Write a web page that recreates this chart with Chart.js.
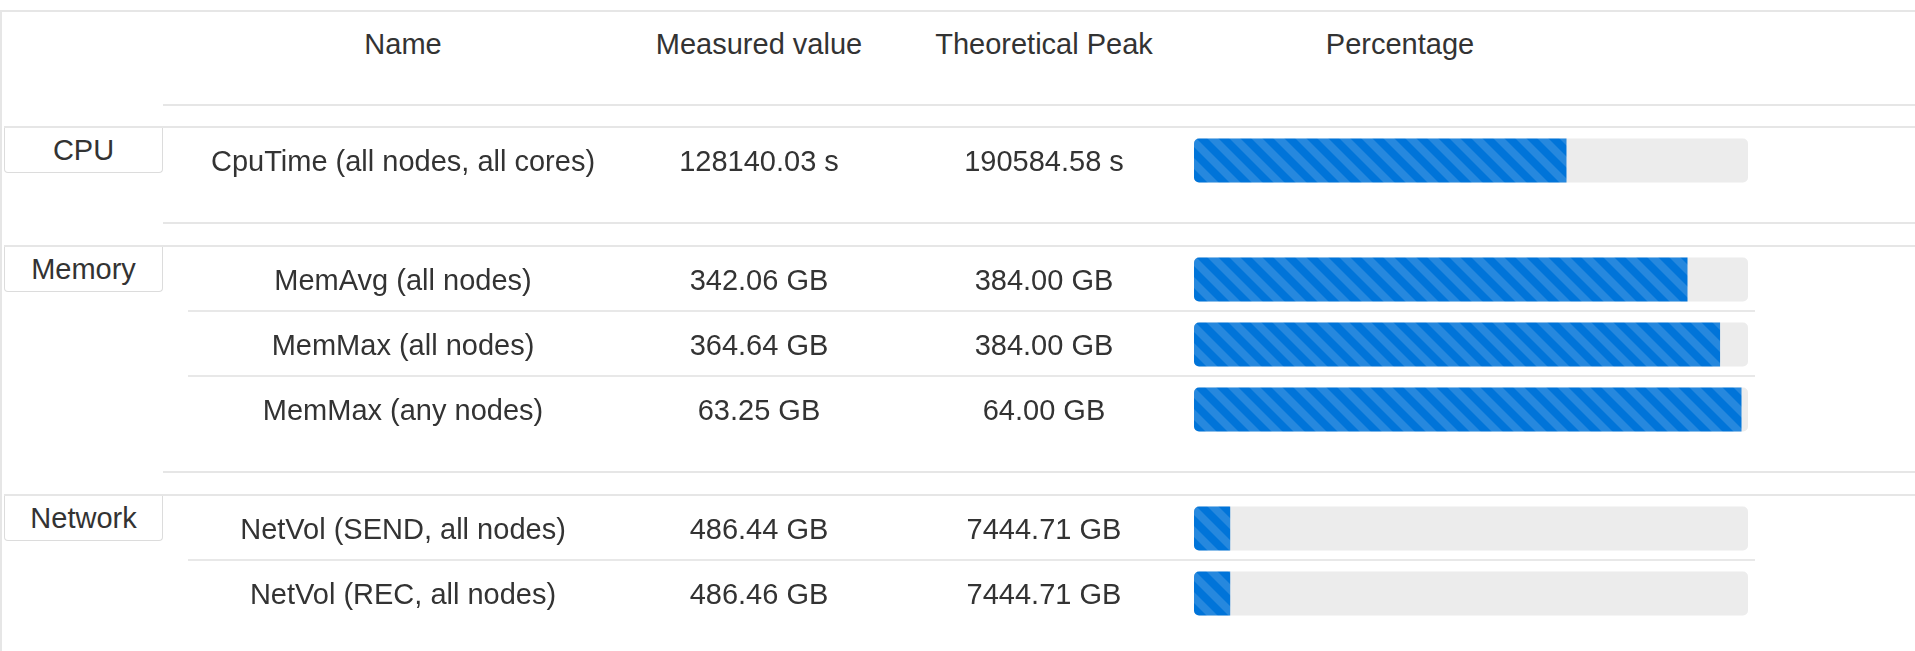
<!DOCTYPE html>
<html>
<head>
<meta charset="utf-8">
<title>Job metrics</title>
<script src="https://cdn.jsdelivr.net/npm/chart.js@4.4.1/dist/chart.umd.min.js"></script>
<style>
  html, body { margin: 0; padding: 0; background: #fff; }
  body { width: 1915px; height: 651px; overflow: hidden; font-family: "Liberation Sans", Arial, sans-serif; color: #333; }
  #page { position: relative; width: 1915px; height: 651px; }
  .line { position: absolute; height: 2px; background: #e6e6e6; }
  .vline { position: absolute; left: 0; top: 10px; bottom: 0; width: 2px; background: #e6e6e6; }
  .head { position: absolute; top: 28px; line-height: 32px; font-size: 29px; white-space: nowrap; transform: translateX(-50%); }
  .box { position: absolute; left: 4px; width: 157px; height: 44px; border: 1px solid #dcdcdc; border-top: none;
         border-radius: 0 0 4px 4px; text-align: center; font-size: 29px; line-height: 44px; background: #fff; }
  canvas { position: absolute; }
</style>
</head>
<body>
<div id="page"></div>
<script>
  // Table data
  let groupNames = ['CPU', 'Memory', 'Network'];
  let headers = ['Name', 'Measured value', 'Theoretical Peak', 'Percentage'];
  let metricNames = [
    'CpuTime (all nodes, all cores)',
    'MemAvg (all nodes)',
    'MemMax (all nodes)',
    'MemMax (any nodes)',
    'NetVol (SEND, all nodes)',
    'NetVol (REC, all nodes)'
  ];
  let metricGroups = ['CPU', 'Memory', 'Memory', 'Memory', 'Network', 'Network'];
  let measuredValues = [128140.03, 342.06, 364.64, 63.25, 486.44, 486.46];
  let peakValues = [190584.58, 384.00, 384.00, 64.00, 7444.71, 7444.71];
  let units = ['s', 'GB', 'GB', 'GB', 'GB', 'GB'];

  // Layout (page pixels)
  const CHART_LEFT = 163;
  const COL_NAME = 403, COL_MEASURED = 759, COL_PEAK = 1044, COL_PCT = 1400;
  const BAR_LEFT = 1194, BAR_RIGHT = 1748;
  const ROW_H = 65;
  const page = document.getElementById('page');

  function addLine(left, y, width) {
    const d = document.createElement('div');
    d.className = 'line';
    d.style.left = left + 'px';
    d.style.top = y + 'px';
    d.style.width = width + 'px';
    page.appendChild(d);
  }

  const v = document.createElement('div');
  v.className = 'vline';
  page.appendChild(v);
  addLine(0, 10, 1915);
  addLine(CHART_LEFT, 104, 1915 - CHART_LEFT);

  // Column headers
  [COL_NAME, COL_MEASURED, COL_PEAK, COL_PCT].forEach((x, i) => {
    const h = document.createElement('div');
    h.className = 'head';
    h.style.left = x + 'px';
    h.textContent = headers[i];
    page.appendChild(h);
  });

  // Striped fill like a progress bar
  function stripes() {
    const c = document.createElement('canvas');
    c.width = 44; c.height = 44;
    const g = c.getContext('2d');
    g.fillStyle = '#0074d9';
    g.fillRect(0, 0, 44, 44);
    g.fillStyle = 'rgba(255,255,255,0.15)';
    for (let s = -88; s <= 44; s += 22) {
      g.beginPath();
      g.moveTo(s, 0);
      g.lineTo(s + 11, 0);
      g.lineTo(s + 55, 44);
      g.lineTo(s + 44, 44);
      g.closePath();
      g.fill();
    }
    return g.createPattern(c, 'repeat');
  }
  const stripePattern = stripes();

  // Text columns and row separators drawn at the category positions
  const cellPlugin = {
    id: 'cells',
    afterDraw(chart) {
      const ctx = chart.ctx;
      const y = chart.scales.y;
      const rows = chart.data.rows;
      ctx.save();
      ctx.strokeStyle = '#e8e8e8';
      ctx.lineWidth = 2;
      for (let i = 0; i < rows.length - 1; i++) {
        const sy = Math.round((y.getPixelForValue(i) + y.getPixelForValue(i + 1)) / 2) - 1;
        ctx.beginPath();
        ctx.moveTo(188 - CHART_LEFT, sy);
        ctx.lineTo(1755 - CHART_LEFT, sy);
        ctx.stroke();
      }
      ctx.fillStyle = '#333';
      ctx.font = '29px "Liberation Sans", Arial, sans-serif';
      ctx.textAlign = 'center';
      ctx.textBaseline = 'middle';
      rows.forEach((r, i) => {
        const py = y.getPixelForValue(i) + 2;
        ctx.fillText(metricNames[r], COL_NAME - CHART_LEFT, py);
        ctx.fillText(measuredValues[r].toFixed(2) + ' ' + units[r], COL_MEASURED - CHART_LEFT, py);
        ctx.fillText(peakValues[r].toFixed(2) + ' ' + units[r], COL_PEAK - CHART_LEFT, py);
      });
      ctx.restore();
    }
  };

  let groupTop = 126;
  groupNames.forEach(group => {
    const rows = [];
    metricGroups.forEach((g, i) => { if (g === group) rows.push(i); });

    addLine(4, groupTop, 1915 - 4);
    const box = document.createElement('div');
    box.className = 'box';
    box.style.top = (groupTop + 2) + 'px';
    box.textContent = group;
    page.appendChild(box);

    const canvas = document.createElement('canvas');
    canvas.width = 1915 - CHART_LEFT;
    canvas.height = rows.length * ROW_H;
    canvas.style.left = CHART_LEFT + 'px';
    canvas.style.top = (groupTop + 2) + 'px';
    page.appendChild(canvas);

    const data = {
      labels: rows.map(r => metricNames[r]),
      rows: rows,
      datasets: [{
        label: 'Percentage',
        data: rows.map(r => measuredValues[r] / peakValues[r] * 100),
        backgroundColor: stripePattern,
        barThickness: 44,
        grouped: false,
        order: 0,
        inflateAmount: 0,
        borderSkipped: false,
        borderRadius: { topLeft: 5, bottomLeft: 5, topRight: 0, bottomRight: 0 }
      }, {
        label: 'Track',
        data: rows.map(() => 100),
        backgroundColor: '#ececec',
        barThickness: 44,
        grouped: false,
        order: 1,
        inflateAmount: 0,
        borderSkipped: false,
        borderRadius: 5
      }]
    };

    new Chart(canvas.getContext('2d'), {
      type: 'bar',
      data: data,
      options: {
        indexAxis: 'y',
        responsive: false,
        animation: false,
        layout: { padding: { left: BAR_LEFT - CHART_LEFT, right: 1915 - BAR_RIGHT, top: 0, bottom: 0 } },
        scales: {
          x: { display: false, min: 0, max: 100 },
          y: { display: false, offset: true }
        },
        plugins: { legend: { display: false }, tooltip: { enabled: false } }
      },
      plugins: [cellPlugin]
    });

    const bottom = groupTop + 2 + rows.length * ROW_H + 29;
    addLine(CHART_LEFT, bottom, 1915 - CHART_LEFT);
    groupTop = bottom + 2 + 21;
  });
</script>
</body>
</html>
